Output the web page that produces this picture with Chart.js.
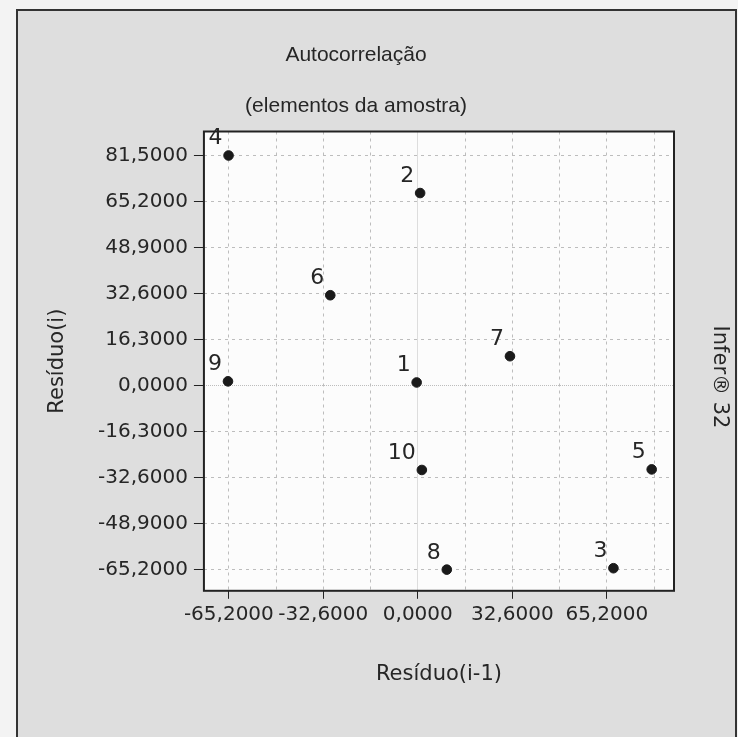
<!DOCTYPE html>
<html>
<head>
<meta charset="utf-8">
<script src="https://cdn.jsdelivr.net/npm/chart.js@4/dist/chart.umd.min.js"></script>
<style>
  html, body { margin: 0; padding: 0; background: #f3f3f3; }
  canvas { display: block; }
</style>
</head>
<body>
<canvas id="autocorr" width="738" height="737"></canvas>
<script>
// residual pairs: x = residual of element i-1, y = residual of element i
var pointNames = ['1', '2', '3', '4', '5', '6', '7', '8', '9', '10'];
var residPrev = [-0.4, 0.8, 67.5, -65.3, 80.7, -30.2, 31.8, 10, -65.5, 1.4];
var resid = [1.2, 68.3, -64.6, 81.6, -29.6, 32.1, 10.5, -65.1, 1.6, -29.8];

var yTicks = [-65.2, -48.9, -32.6, -16.3, 0, 16.3, 32.6, 48.9, 65.2, 81.5];
var xTicks = [-65.2, -48.9, -32.6, -16.3, 0, 16.3, 32.6, 48.9, 65.2, 81.5];
var xTickLabels = [-65.2, -32.6, 0, 32.6, 65.2];

var fmt = function(v) {
    return v.toFixed(4).replace('.', ',');
};
var isXLabel = function(v) {
    return xTickLabels.some(function(t) { return Math.abs(t - v) < 1e-6; });
};
var gridDash = function(c) {
    return (c.tick && c.tick.value === 0) ? [1, 1] : [3, 4];
};

var framePlugin = {
    id: 'frame',
    beforeDraw: function(chart) {
        var ctx = chart.ctx, a = chart.chartArea;
        ctx.save();
        ctx.fillStyle = '#f3f3f3';
        ctx.fillRect(0, 0, chart.width, chart.height);
        ctx.fillStyle = '#dedede';
        ctx.fillRect(17, 10, 719, 760);
        ctx.strokeStyle = '#333';
        ctx.lineWidth = 2;
        ctx.strokeRect(17, 10, 719, 760);
        ctx.fillStyle = '#fcfcfc';
        ctx.fillRect(a.left, a.top, a.right - a.left, a.bottom - a.top);
        ctx.restore();
    },
    afterDraw: function(chart) {
        var ctx = chart.ctx, a = chart.chartArea;
        ctx.save();
        ctx.strokeStyle = '#222';
        ctx.lineWidth = 2;
        ctx.strokeRect(a.left, a.top, a.right - a.left, a.bottom - a.top);

        // element numbers next to each point
        ctx.fillStyle = '#262626';
        ctx.font = '22px "DejaVu Sans"';
        ctx.textAlign = 'right';
        ctx.textBaseline = 'alphabetic';
        chart.getDatasetMeta(0).data.forEach(function(pt, i) {
            ctx.fillText(pointNames[i], pt.x - 6, pt.y - 11);
        });

        // side caption
        ctx.translate(a.right + 45, 377);
        ctx.rotate(Math.PI / 2);
        ctx.font = '21px "DejaVu Sans"';
        ctx.textAlign = 'center';
        ctx.textBaseline = 'middle';
        ctx.fillText('Infer\u00AE 32', 0, 0);
        ctx.restore();
    }
};

var ctx = document.getElementById('autocorr').getContext('2d');
var chart = new Chart(ctx, {
    type: 'scatter',
    data: {
        datasets: [{
            label: 'Autocorrelação',
            data: residPrev.map(function(x, i) { return { x: x, y: resid[i] }; }),
            pointRadius: 4.8,
            pointBackgroundColor: '#1a1a1a',
            pointBorderColor: '#1a1a1a',
            pointBorderWidth: 1
        }]
    },
    options: {
        responsive: false,
        animation: false,
        devicePixelRatio: 1,
        layout: { padding: { left: 38, right: 64, top: 10, bottom: 0 } },
        plugins: {
            legend: { display: false },
            tooltip: { enabled: false },
            title: {
                display: true,
                text: ['Autocorrelação', '(elementos da amostra)'],
                color: '#262626',
                font: { family: 'Liberation Sans', size: 21, weight: 'normal', lineHeight: '51px' },
                padding: { top: 19.5, bottom: 0 }
            }
        },
        scales: {
            x: {
                type: 'linear',
                min: -73.8,
                max: 88.4,
                afterBuildTicks: function(axis) {
                    axis.ticks = xTicks.map(function(v) { return { value: v }; });
                },
                ticks: {
                    autoSkip: false,
                    maxRotation: 0,
                    minRotation: 0,
                    padding: 4,
                    color: '#262626',
                    font: { family: 'DejaVu Sans', size: 20 },
                    callback: function(v) { return isXLabel(v) ? fmt(v) : ''; }
                },
                grid: {
                    color: '#bdbdbd',
                    tickLength: 8,
                    tickColor: function(c) { return isXLabel(c.tick.value) ? '#222' : 'rgba(0,0,0,0)'; }
                },
                border: { display: false, dash: gridDash },
                title: {
                    display: true,
                    text: 'Resíduo(i-1)',
                    color: '#262626',
                    font: { family: 'DejaVu Sans', size: 21 },
                    padding: { top: 31, bottom: 50 }
                }
            },
            y: {
                type: 'linear',
                min: -72.6,
                max: 90.1,
                afterBuildTicks: function(axis) {
                    axis.ticks = yTicks.map(function(v) { return { value: v }; });
                },
                ticks: {
                    autoSkip: false,
                    padding: 6,
                    color: '#262626',
                    font: { family: 'DejaVu Sans', size: 20 },
                    callback: function(v) { return fmt(v); }
                },
                grid: {
                    color: '#bdbdbd',
                    tickLength: 10,
                    tickColor: '#222'
                },
                border: { display: false, dash: gridDash },
                title: {
                    display: true,
                    text: 'Resíduo(i)',
                    color: '#262626',
                    font: { family: 'DejaVu Sans', size: 21 },
                    padding: { top: 7, bottom: 21.8 }
                }
            }
        }
    },
    plugins: [framePlugin]
});
</script>
</body>
</html>
